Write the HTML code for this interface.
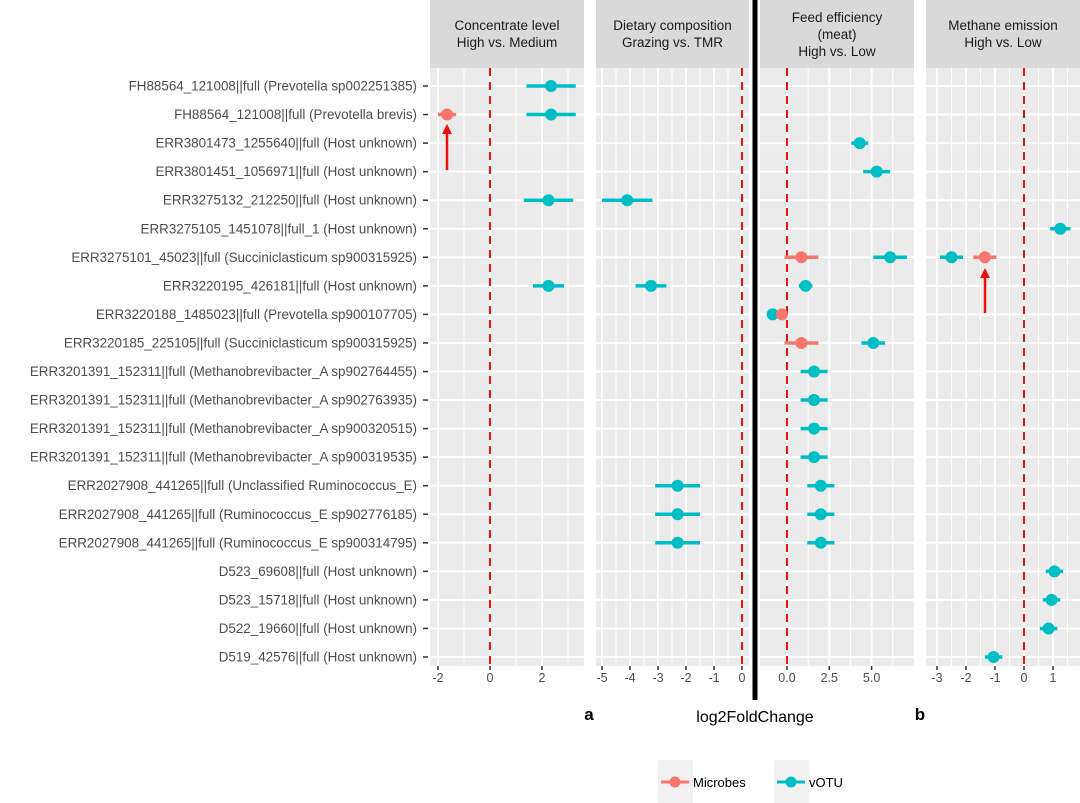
<!DOCTYPE html>
<html><head><meta charset="utf-8"><style>
html,body{margin:0;padding:0;background:#fff;}
svg{display:block;font-family:"Liberation Sans",Arial,sans-serif;}
</style></head><body>
<svg id="chart" width="1080" height="803" viewBox="0 0 1080 803"></svg>
<script>
const rowLabels = [
"FH88564_121008||full (Prevotella sp002251385)",
"FH88564_121008||full (Prevotella brevis)",
"ERR3801473_1255640||full (Host unknown)",
"ERR3801451_1056971||full (Host unknown)",
"ERR3275132_212250||full (Host unknown)",
"ERR3275105_1451078||full_1 (Host unknown)",
"ERR3275101_45023||full (Succiniclasticum sp900315925)",
"ERR3220195_426181||full (Host unknown)",
"ERR3220188_1485023||full (Prevotella sp900107705)",
"ERR3220185_225105||full (Succiniclasticum sp900315925)",
"ERR3201391_152311||full (Methanobrevibacter_A sp902764455)",
"ERR3201391_152311||full (Methanobrevibacter_A sp902763935)",
"ERR3201391_152311||full (Methanobrevibacter_A sp900320515)",
"ERR3201391_152311||full (Methanobrevibacter_A sp900319535)",
"ERR2027908_441265||full (Unclassified Ruminococcus_E)",
"ERR2027908_441265||full (Ruminococcus_E sp902776185)",
"ERR2027908_441265||full (Ruminococcus_E sp900314795)",
"D523_69608||full (Host unknown)",
"D523_15718||full (Host unknown)",
"D522_19660||full (Host unknown)",
"D519_42576||full (Host unknown)"];
const panelTitles = [["Concentrate level","High vs. Medium"],["Dietary composition","Grazing vs. TMR"],["Feed efficiency","(meat)","High vs. Low"],["Methane emission","High vs. Low"]];
const panelTicks = [[-2,0,2],[-5,-4,-3,-2,-1,0],[0,2.5,5],[-3,-2,-1,0,1]];
const panelTickLabels = [["-2","0","2"],["-5","-4","-3","-2","-1","0"],["0.0","2.5","5.0"],["-3","-2","-1","0","1"]];
const panelMinor = [[-1,1,3],[-4.5,-3.5,-2.5,-1.5,-0.5],[1.25,3.75,6.25],[-2.5,-1.5,-0.5,0.5,1.5]];
const ptPanel = [0,0,0,2,2,0,1,3,2,2,3,3,0,1,2,2,2,2,2,2,2,2,2,1,2,1,2,1,2,3,3,3,3];
const ptRow   = [0,1,1,2,3,4,4,5,6,6,6,6,7,7,7,8,8,9,9,10,11,12,13,14,14,15,15,16,16,17,18,19,20];
const ptGroup = [1,0,1,1,1,1,1,1,0,1,1,0,1,1,1,1,0,0,1,1,1,1,1,1,1,1,1,1,1,1,1,1,1];
const ptEst   = [2.35,-1.65,2.35,4.3,5.3,2.25,-4.1,1.25,0.85,6.1,-2.5,-1.35,2.25,-3.25,1.1,-0.85,-0.3,0.85,5.1,1.6,1.6,1.6,1.6,-2.3,2.0,-2.3,2.0,-2.3,2.0,1.05,0.95,0.85,-1.05];
const ptErr   = [0.95,0.35,0.95,0.5,0.8,0.95,0.9,0.35,1.0,1.0,0.4,0.4,0.6,0.55,0.4,0.2,0.2,1.0,0.7,0.8,0.8,0.8,0.8,0.8,0.8,0.8,0.8,0.8,0.8,0.3,0.3,0.3,0.3];

const NS="http://www.w3.org/2000/svg";
const svg=document.getElementById('chart');
function el(tag,attrs,parent){const e=document.createElementNS(NS,tag);for(const k in attrs)e.setAttribute(k,attrs[k]);(parent||svg).appendChild(e);return e;}
const panels=[{x0:430,x1:584,zero:490,ppu:26},{x0:596,x1:749,zero:742,ppu:28},{x0:760,x1:914,zero:787,ppu:16.92},{x0:926,x1:1080,zero:1024,ppu:29}];
const plotTop=68,plotBottom=666;
function yRow(i){return 86+i*(657-86)/20;}
function xVal(p,v){return panels[p].zero+v*panels[p].ppu;}
const colors=["#F8766D","#00BFC4"];

panels.forEach((P,p)=>{
  const g=el('g',{});
  
  
  const st=el('rect',{x:P.x0,y:0,width:P.x1-P.x0,height:plotTop,fill:'#D9D9D9'},g);
  
  
  const lines=panelTitles[p];
  const ys=lines.length===3?[22,39,56]:[30,47];
  lines.forEach((t,i)=>{const tx=el('text',{x:(P.x0+P.x1)/2,y:ys[i],'text-anchor':'middle','font-size':13.5,fill:'#1a1a1a'},g);tx.textContent=t;
    
    });
  const bg=el('rect',{x:P.x0,y:plotTop,width:P.x1-P.x0,height:plotBottom-plotTop,fill:'#EBEBEB'},g);
  
  
  panelMinor[p].forEach(v=>{const x=xVal(p,v);if(x>P.x0&&x<P.x1)el('line',{x1:x,x2:x,y1:plotTop,y2:plotBottom,stroke:'#fff','stroke-width':1},g);});
  panelTicks[p].forEach((v,i)=>{const x=xVal(p,v);
    el('line',{x1:x,x2:x,y1:plotTop,y2:plotBottom,stroke:'#fff','stroke-width':2},g);
    el('line',{x1:x,x2:x,y1:plotBottom,y2:plotBottom+4,stroke:'#333','stroke-width':1.5},g);
    const tl=el('text',{x:x,y:plotBottom+16,'text-anchor':'middle','font-size':12.5,fill:'#4d4d4d'},g);tl.textContent=panelTickLabels[p][i];
    
    });
  rowLabels.forEach((r,i)=>el('line',{x1:P.x0,x2:P.x1,y1:yRow(i),y2:yRow(i),stroke:'#fff','stroke-width':2},g));
  const zl=el('line',{x1:P.zero,x2:P.zero,y1:plotTop,y2:plotBottom,stroke:'#F01010','stroke-width':2,'stroke-dasharray':'8,6'},g);
  
  
});

rowLabels.forEach((r,i)=>{
  const t=el('text',{x:417,y:yRow(i)+4.5,'text-anchor':'end','font-size':13.4,fill:'#4d4d4d'});t.textContent=r;
  
  
  el('line',{x1:423,x2:428,y1:yRow(i),y2:yRow(i),stroke:'#333','stroke-width':1.5});
});

for(let k=0;k<ptEst.length;k++){
  const p=ptPanel[k],y=yRow(ptRow[k]),c=colors[ptGroup[k]];
  const g=el('g',{});
  
  
  el('line',{x1:xVal(p,ptEst[k]-ptErr[k]),x2:xVal(p,ptEst[k]+ptErr[k]),y1:y,y2:y,stroke:c,'stroke-width':3.5},g);
  el('circle',{cx:xVal(p,ptEst[k]),cy:y,r:6,fill:c},g);
}

function arrow(x,y1,y2){const g=el('g',{});
  
  
  el('line',{x1:x,x2:x,y1:y1,y2:y2+8,stroke:'#F01010','stroke-width':2.5},g);
  el('polygon',{points:`${x-5},${y2+10} ${x+5},${y2+10} ${x},${y2}`,fill:'#F01010'},g);}
arrow(447,170,124);
arrow(985,313,268);

const sep=el('line',{x1:755,x2:755,y1:0,y2:700,stroke:'#000','stroke-width':5});



const at=el('text',{x:755,y:722,'text-anchor':'middle','font-size':16,fill:'#000'});at.textContent='log2FoldChange';


const la=el('text',{x:589,y:720,'text-anchor':'middle','font-size':17,'font-weight':'bold',fill:'#000'});la.textContent='a';


const lb=el('text',{x:920,y:720,'text-anchor':'middle','font-size':17,'font-weight':'bold',fill:'#000'});lb.textContent='b';



const legNames=["Microbes","vOTU"],legKeyX=[659,775],legTextX=[707,823];
legNames.forEach((n,i)=>{const g=el('g',{});
  
  
  el('rect',{x:legKeyX[i]-1,y:760,width:35,height:44,fill:'#F2F2F2'},g);
  el('line',{x1:legKeyX[i]+2,x2:legKeyX[i]+30,y1:782,y2:782,stroke:colors[i],'stroke-width':3},g);
  el('circle',{cx:legKeyX[i]+16,cy:782,r:5.5,fill:colors[i]},g);
  const t=el('text',{x:legTextX[i]-14,y:787,'font-size':13,fill:'#000'},g);t.textContent=n;});
</script>
</body></html>
